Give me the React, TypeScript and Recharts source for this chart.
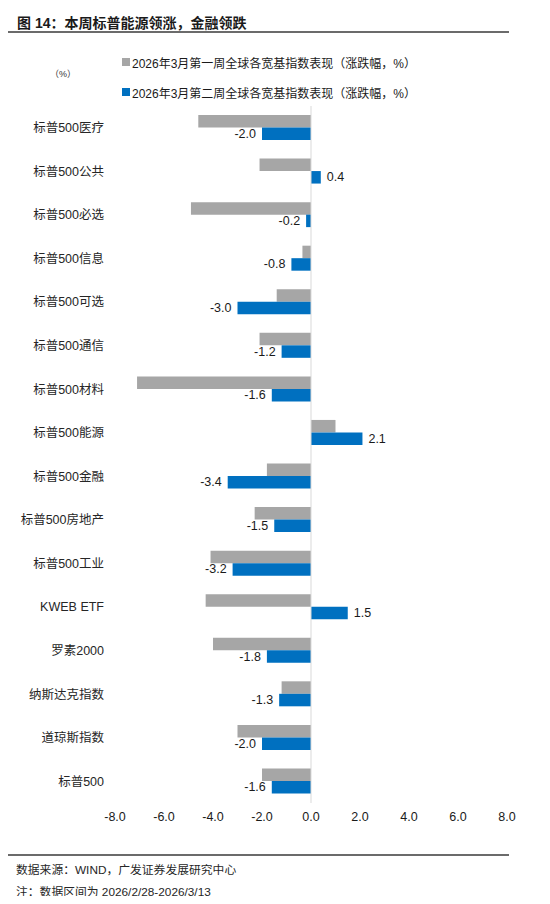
import { BarChart, Bar, XAxis, YAxis, ReferenceLine, LabelList, Legend } from "recharts";

// 2026年3月前两周全球宽基指数涨跌幅（%）
const categories = [
  "标普500医疗", "标普500公共", "标普500必选", "标普500信息", "标普500可选",
  "标普500通信", "标普500材料", "标普500能源", "标普500金融", "标普500房地产",
  "标普500工业", "KWEB ETF", "罗素2000", "纳斯达克指数", "道琼斯指数", "标普500",
];
const week1 = [-4.6, -2.1, -4.9, -0.35, -1.4, -2.1, -7.1, 1.0, -1.8, -2.3, -4.1, -4.3, -4.0, -1.2, -3.0, -2.0];
const week2 = [-2.0, 0.4, -0.2, -0.8, -3.0, -1.2, -1.6, 2.1, -3.4, -1.5, -3.2, 1.5, -1.8, -1.3, -2.0, -1.6];
const xTicks = [-8, -6, -4, -2, 0, 2, 4, 6, 8];
const seriesNames = [
  "2026年3月第一周全球各宽基指数表现（涨跌幅，%）",
  "2026年3月第二周全球各宽基指数表现（涨跌幅，%）",
];

const GREY = "#a6a6a6";
const BLUE = "#0070c0";
const FONT = "'Liberation Sans', Arial, 'Noto Sans CJK SC', sans-serif";

const data = categories.map((name, i) => ({ name, w1: week1[i], w2: week2[i] }));

function ValueLabel(props: any) {
  const { x, y, width, height, value } = props;
  const left = Math.min(x, x + width);
  const right = Math.max(x, x + width);
  const neg = value < 0;
  return (
    <text
      x={neg ? left - 6 : right + 6}
      y={y + height / 2}
      textAnchor={neg ? "end" : "start"}
      dominantBaseline="central"
      fontSize={12.5}
      fontFamily={FONT}
      fill="#1a1a1a"
    >
      {Number(value).toFixed(1)}
    </text>
  );
}

function LegendBox() {
  const colors = [GREY, BLUE];
  return (
    <div style={{ fontFamily: FONT, fontSize: 12, color: "#1a1a1a" }}>
      {seriesNames.map((s, i) => (
        <div key={s} style={{ height: 30, display: "flex", alignItems: "center" }}>
          <span style={{ display: "inline-block", width: 8, height: 8, background: colors[i], marginRight: 2 }} />
          <span>{s}</span>
        </div>
      ))}
    </div>
  );
}

export default function App() {
  return (
    <div style={{ position: "relative", width: 550, height: 904, margin: -8, background: "#fff", fontFamily: FONT }}>
      <div style={{ position: "absolute", left: 17, top: 12, fontSize: 14, fontWeight: "bold", color: "#1a1a1a", whiteSpace: "nowrap" }}>
        图 14：本周标普能源领涨，金融领跌
      </div>
      <div style={{ position: "absolute", left: 8, top: 31, width: 501, height: 2, background: "#6b6b6b" }} />
      <div style={{ position: "absolute", left: 50, top: 67, fontSize: 9, color: "#333" }}>（%）</div>

      <div style={{ position: "absolute", left: 0, top: 0 }}>
        <BarChart
          width={550}
          height={833}
          data={data}
          layout="vertical"
          margin={{ top: 106, right: 43, bottom: 0, left: 0 }}
          barGap={0}
        >
          <XAxis
            type="number"
            domain={[-8, 8]}
            ticks={xTicks}
            tickFormatter={(v: number) => v.toFixed(1)}
            axisLine={false}
            tickLine={false}
            tickMargin={3}
            height={30}
            tick={{ fontSize: 12.5, fill: "#1a1a1a", fontFamily: FONT }}
          />
          <YAxis
            type="category"
            dataKey="name"
            width={115}
            axisLine={false}
            tickLine={false}
            tickMargin={5}
            interval={0}
            tick={{ fontSize: 12.5, fill: "#262626", fontFamily: FONT }}
          />
          <Legend
            layout="horizontal"
            verticalAlign="middle"
            align="center"
            content={() => <LegendBox />}
            wrapperStyle={{ top: 47, left: 122, width: 400 }}
          />
          <ReferenceLine x={0} stroke="#d9d9d9" strokeWidth={1} />
          <Bar dataKey="w1" name={seriesNames[0]} fill={GREY} barSize={12.5} isAnimationActive={false} />
          <Bar dataKey="w2" name={seriesNames[1]} fill={BLUE} barSize={12.5} isAnimationActive={false}>
            <LabelList dataKey="w2" content={ValueLabel} />
          </Bar>
        </BarChart>
      </div>

      <div style={{ position: "absolute", left: 8, top: 854, width: 501, height: 1.5, background: "#6b6b6b" }} />
      <div style={{ position: "absolute", left: 16, top: 860, fontSize: 11.8, color: "#262626", whiteSpace: "nowrap" }}>
        数据来源：WIND，广发证券发展研究中心
      </div>
      <div style={{ position: "absolute", left: 16, top: 882, fontSize: 11.8, color: "#262626", whiteSpace: "nowrap" }}>
        注：数据区间为 2026/2/28-2026/3/13
      </div>
    </div>
  );
}
